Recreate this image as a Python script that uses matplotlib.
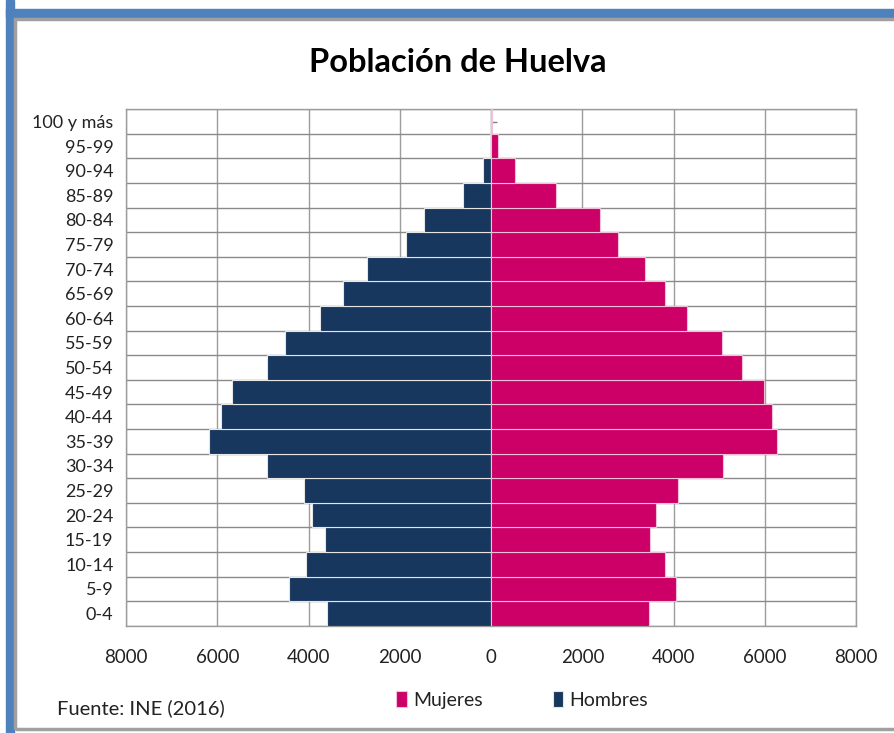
import matplotlib
matplotlib.use("Agg")
import matplotlib.pyplot as plt
from matplotlib.patches import Rectangle
from matplotlib.ticker import FuncFormatter
import numpy as np

plt.rcParams['font.family'] = ['Lato', 'DejaVu Sans']

# age groups, bottom to top
grupos = ["0-4", "5-9", "10-14", "15-19", "20-24", "25-29", "30-34", "35-39",
          "40-44", "45-49", "50-54", "55-59", "60-64", "65-69", "70-74",
          "75-79", "80-84", "85-89", "90-94", "95-99", "100 y más"]
hombres = [3600, 4430, 4060, 3630, 3920, 4110, 4920, 6180, 5920, 5670, 4900,
           4510, 3740, 3250, 2730, 1860, 1475, 620, 170, 30, 5]
mujeres = [3460, 4040, 3800, 3490, 3610, 4100, 5090, 6270, 6160, 5980, 5490,
           5050, 4300, 3800, 3380, 2780, 2390, 1410, 520, 155, 25]
x_ticks = [-8000, -6000, -4000, -2000, 0, 2000, 4000, 6000, 8000]

col_h = '#17375e'
col_m = '#cc0066'
grid_col = '#9d9d9d'

fig = plt.figure(figsize=(8.94, 7.33), dpi=100)

# frame decoration (blue band left/top, thin gray inner border)
fig.patches.append(Rectangle((6 / 894, 0), 8 / 894, 1, transform=fig.transFigure,
                             color='#4f81bd', zorder=0))
fig.patches.append(Rectangle((6 / 894, (733 - 17) / 733), 1, 8 / 733,
                             transform=fig.transFigure, color='#4f81bd', zorder=0))
fig.patches.append(Rectangle((15 / 894, 4 / 733), 1, (733 - 23) / 733,
                             transform=fig.transFigure, fill=False,
                             edgecolor='#a0a0a0', lw=2.5, zorder=1))

ax = fig.add_axes([126 / 894, 107.3 / 733, 730.3 / 894, 516.4 / 733])
y = np.arange(len(grupos))

bh = ax.barh(y, [-v for v in hombres], height=1.0, color=col_h,
             edgecolor='#e6e6e6', linewidth=0.8, label='Hombres', zorder=3)
bm = ax.barh(y, mujeres, height=1.0, color=col_m,
             edgecolor='#f0c0d8', linewidth=0.8, label='Mujeres', zorder=3)

ax.set_xlim(-8000, 8000)
ax.set_ylim(-0.5, len(grupos) - 0.5)
ax.set_xticks(x_ticks)
ax.xaxis.set_major_formatter(FuncFormatter(lambda v, p: f"{abs(int(v))}"))
ax.set_yticks(y)
ax.set_yticklabels(grupos)
ax.set_yticks(np.arange(-0.5, len(grupos), 1.0), minor=True)
ax.tick_params(axis='y', which='both', length=0, pad=9, labelsize=13, colors='#222222')
ax.tick_params(axis='x', length=0, pad=17, labelsize=13.5, colors='#222222')
ax.grid(axis='x', which='major', color=grid_col, linewidth=1.0, zorder=0)
ax.grid(axis='y', which='minor', color='#8a8a8a', linewidth=1.0, zorder=0)
ax.set_axisbelow(True)
for s in ax.spines.values():
    s.set_color(grid_col)
    s.set_linewidth(1.0)

# vertical axis at zero with small tick marks
sec = ax.secondary_yaxis(0.5)
sec.set_yticks(y)
sec.set_yticklabels([])
sec.tick_params(length=4, direction='out', color='#7f7f7f', width=1)
sec.spines['left'].set_color('#7f7f7f')

fig.text(0.512, 1 - 62 / 733, "Población de Huelva", ha='center', va='center',
         fontsize=23.5, fontweight='bold', color='black')
fig.text(57 / 894, 1 - 708 / 733, "Fuente: INE (2016)", ha='left', va='center',
         fontsize=14.5, color='#222222')

fig.legend(handles=[bm, bh], labels=['Mujeres', 'Hombres'], ncol=2,
           loc='center', bbox_to_anchor=(522 / 894, 1 - 700 / 733), frameon=False,
           fontsize=14, handlelength=0.55, handleheight=0.9, handletextpad=0.3,
           columnspacing=3.6, labelcolor='#222222')

fig.savefig("out.png", dpi=100)
